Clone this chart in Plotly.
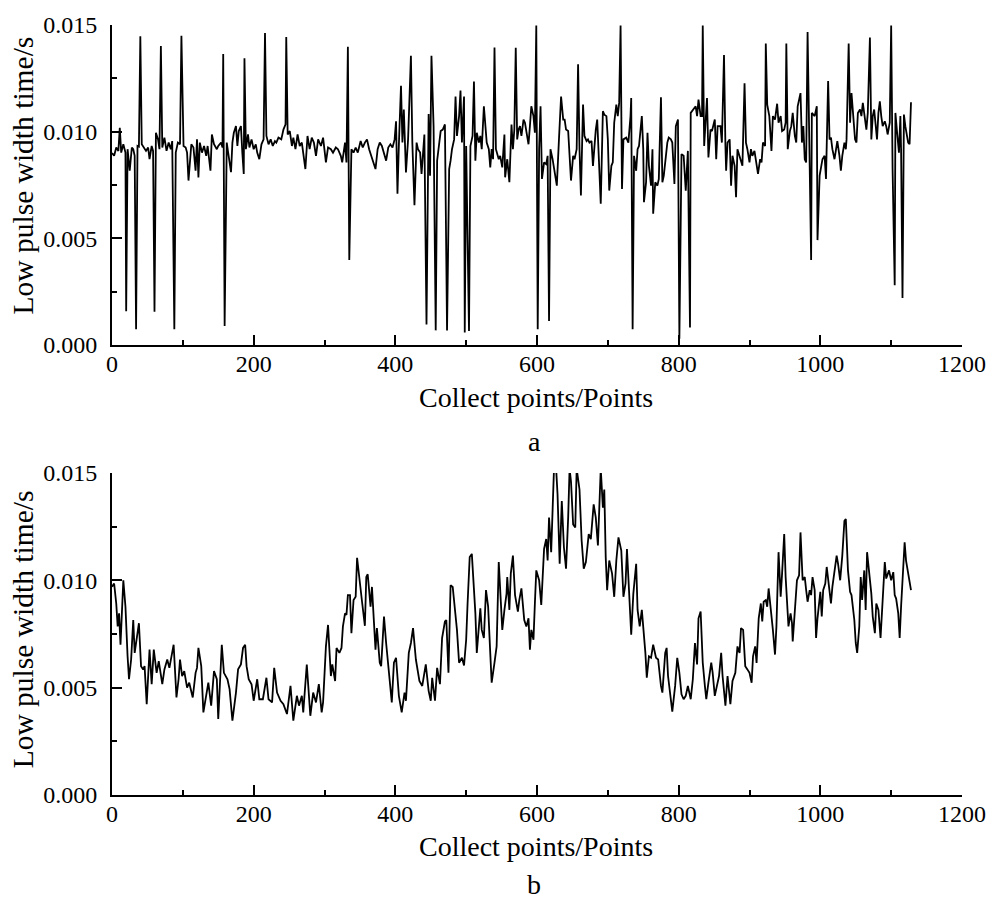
import plotly.graph_objects as go

# ---------------- data (in milliseconds) ----------------
a_x = [0,3,6,9,11,13,16,19,20,22,25,28,30,32,34,36,38,40,42,45,48,51,53,56,58,60,62,65,67,69,71,74,77,80,83,85,88,90,93,96,98,
       101,104,106,108,112,115,118,120,122,124,127,130,133,135,139,141,144,148,150,154,156,157,159,162,164,168,170,172,175,177,179,
       182,184,186,187,189,192,194,197,200,203,205,208,211,214,216,218,221,224,227,230,232,235,239,242,245,246,248,251,254,256,259,
       262,265,268,270,273,276,279,282,285,288,291,295,298,302,305,309,312,316,319,323,325,329,331,333,335,338,341,344,347,351,354,
       357,360,363,366,369,372,375,378,381,384,387,390,393,396,399,401,403,405,408,410,412,415,418,422,424,427,430,432,435,437,441,
       444,447,449,451,454,457,459,462,464,467,470,473,476,478,480,483,485,487,490,492,494,497,498,500,504,506,509,511,513,515,518,
       520,522,525,527,529,532,534,536,538,540,542,546,548,551,554,555,558,561,564,566,568,570,572,574,576,578,581,583,585,588,590,
       592,595,597,599,601,603,605,607,610,613,615,617,619,622,625,628,631,632,634,637,639,641,644,646,648,651,653,656,658,660,662,
       665,667,670,672,674,677,679,681,683,685,687,690,693,695,698,700,702,705,707,709,712,714,716,718,720,722,726,729,732,733,735,
       737,740,742,744,748,750,751,754,756,758,761,763,764,767,770,772,775,777,779,782,784,786,789,791,794,796,799,801,804,807,810,
       813,816,817,820,824,826,828,831,833,834,836,840,842,845,847,851,853,855,859,861,864,866,867,869,872,874,876,879,881,883,886,
       888,890,893,895,897,900,902,904,907,909,912,915,917,919,922,923,925,928,930,931,933,936,939,941,944,946,949,951,952,954,957,
       959,961,964,966,968,972,974,976,978,980,982,985,987,988,992,995,996,999,1001,1003,1006,1008,1011,1013,1015,1017,1020,1022,
       1024,1027,1029,1031,1034,1036,1037,1040,1042,1044,1047,1049,1051,1053,1056,1058,1060,1063,1065,1067,1070,1072,1074,1076,1078,
       1080,1082,1084,1086,1088,1091,1093,1095,1098,1100,1102,1105,1106,1108,1111,1113,1114,1116,1118,1120,1122,1124,1126,1128]
a_ms = [9.0,8.87,9.26,9.1,10.18,9.02,9.41,9.02,1.59,9.18,8.17,9.26,9.18,8.87,0.74,9.33,9.3,14.47,9.41,9.26,9.1,9.26,8.71,9.33,9.1,
        1.56,9.95,9.64,9.18,14.01,9.26,9.72,9.1,9.49,9.18,9.56,0.74,9.02,9.49,9.41,14.5,
        9.33,9.26,9.02,7.71,9.41,9.26,8.17,9.64,7.86,9.49,9.02,9.33,8.87,9.33,8.17,9.87,9.41,9.18,9.33,9.49,9.26,13.64,0.90,9.49,9.02,
        8.1,9.49,9.95,10.26,9.33,10.03,
        10.26,9.02,8.02,13.44,9.18,9.87,9.26,9.64,9.18,9.41,9.02,8.71,9.41,9.64,14.63,9.8,9.41,9.64,9.33,9.56,9.49,9.72,9.64,10.1,10.34,
        14.44,9.87,10.03,9.33,9.72,9.18,
        9.87,9.33,9.49,8.87,8.25,9.8,9.18,9.72,9.49,8.87,9.64,9.33,9.72,8.56,9.26,9.18,9.02,9.26,9.18,8.87,8.56,9.49,8.56,13.98,3.99,
        9.18,9.02,9.26,9.02,9.56,9.26,
        9.49,9.64,9.18,8.87,8.56,8.25,9.18,9.49,9.33,9.02,8.64,9.26,9.41,9.26,9.64,10.49,7.09,9.4,12.15,9.49,11.04,8.09,9.64,13.56,9.49,
        6.55,9.49,9.18,9.02,8.02,9.87,
        0.97,10.83,7.94,13.56,10.26,0.69,8.64,9.49,10.03,10.1,10.34,0.69,8.25,8.64,9.18,9.64,11.65,9.8,10.73,11.93,9.49,11.65,0.59,9.33,
        0.66,9.33,9.8,12.35,8.64,9.95,9.49,
        9.8,9.18,11.19,10.26,9.49,9.18,8.33,9.18,8.71,13.95,9.18,8.71,8.87,8.33,9.87,7.86,8.71,7.63,10.34,9.18,10.1,13.93,9.64,10.1,10.26,
        9.8,10.57,10.42,9.95,9.41,10.26,
        11.19,10.73,9.95,14.98,0.74,9.18,11.19,7.79,8.56,8.48,8.87,1.13,9.18,8.71,8.09,7.47,9.64,10.57,11.65,10.57,10.57,10.1,10.03,8.87,
        7.71,8.87,8.71,9.18,13.16,9.18,7.01,
        11.27,9.8,9.56,9.64,9.49,9.56,8.4,9.49,10.1,10.57,9.18,6.62,10.96,10.8,10.73,9.64,7.24,8.4,8.56,10.42,11.27,10.73,11.35,14.98,
        7.32,9.64,9.72,9.49,10.73,11.58,0.74,
        8.87,8.17,9.18,9.33,10.73,9.18,6.7,7.63,9.95,8.4,7.47,9.18,6.16,7.63,7.47,7.79,11.61,7.63,7.94,8.87,9.49,9.72,9.64,9.49,7.55,
        10.26,10.57,0.3,8.95,8.87,7.24,
        9.1,0.82,10.88,11.04,11.19,10.73,11.5,10.73,10.73,14.98,9.33,11.58,8.79,10.1,10.03,10.57,8.71,10.26,10.26,9.49,13.59,9.33,8.17,
        9.49,9.64,7.47,8.87,8.4,6.93,9.18,8.87,
        8.56,8.4,12.27,9.49,9.18,8.56,9.18,8.87,9.1,8.56,8.02,8.71,8.56,9.49,9.33,14.13,11.27,10.73,9.49,9.1,10.73,10.57,11.31,10.42,
        10.73,10.03,10.1,10.42,14.13,9.18,10.03,
        10.26,10.88,9.8,9.49,11.19,11.81,9.49,10.26,8.71,8.56,14.67,8.33,3.99,10.88,10.73,11.19,4.92,7.94,8.4,8.71,8.87,7.79,12.38,9.64,
        9.72,9.18,8.71,9.18,
        9.56,8.87,8.17,8.87,9.49,9.18,9.64,14.13,10.42,11.81,10.73,9.64,9.49,10.88,11.04,10.73,11.35,10.73,10.1,10.88,14.41,9.64,10.73,
        11.04,10.26,
        9.64,10.88,11.42,10.73,10.26,10.49,10.26,9.87,10.42,14.98,8.25,2.8,10.88,10.1,9.02,10.73,9.18,2.21,10.8,10.26,9.95,9.49,9.41,11.38]

b_x = [0,3,6,8,10,12,16,19,22,24,27,30,32,35,38,41,44,46,49,53,56,59,63,66,71,74,78,81,87,91,94,96,99,102,106,109,114,118,120,122,
       126,129,133,136,140,144,148,150,155,158,163,166,170,175,178,182,185,188,190,193,197,200,205,208,213,218,221,226,229,233,238,
       242,247,252,256,261,264,268,270,275,280,284,288,292,296,298,302,305,309,311,315,317,321,324,326,329,331,333,336,338,341,344,
       346,350,353,357,359,361,365,367,369,372,374,378,380,384,387,389,392,395,398,401,405,409,413,415,419,422,425,429,434,438,443,
       447,450,452,456,459,463,466,470,472,475,478,481,484,487,490,494,497,500,502,505,508,511,513,515,518,520,522,525,528,531,534,
       536,540,543,546,549,551,554,557,558,561,563,566,569,573,575,578,582,585,588,590,592,595,597,599,603,606,610,613,615,617,620,
       624,627,629,632,635,638,641,644,646,648,651,654,656,660,663,666,669,673,676,680,683,686,688,690,693,695,697,699,702,706,709,
       712,715,719,722,725,727,730,733,736,740,742,745,748,750,753,755,758,761,764,768,771,775,777,781,783,785,789,791,795,798,801,
       804,807,810,813,817,820,823,826,828,831,834,837,839,842,846,848,851,854,857,860,862,866,869,873,876,880,883,886,888,891,894,
       897,900,903,905,908,910,913,916,918,920,923,925,927,930,933,936,938,941,944,946,949,951,953,955,958,960,961,965,967,970,972,
       975,978,980,982,985,987,989,992,994,996,1000,1002,1004,1007,1009,1012,1015,1017,1020,1023,1025,1028,1031,1034,1036,1039,1042,
       1044,1048,1050,1052,1055,1057,1059,1062,1064,1066,1069,1072,1074,1077,1079,1082,1085,1088,1091,1093,1097,1100,1103,1105,1107,
       1110,1112,1114,1116,1119,1121,1123,1126,1128]
b_ms = [9.7,9.85,8.92,7.85,8.46,7.0,10.0,8.77,6.46,5.39,6.31,8.15,6.62,7.39,8.0,6.0,5.85,6.0,4.23,6.77,5.16,6.77,5.69,6.23,5.16,5.85,
        6.31,5.92,7.0,4.54,5.39,6.31,5.54,5.77,5.0,5.23,4.54,5.69,5.92,6.85,
        6.0,3.85,4.62,5.23,4.16,5.77,5.39,3.54,7.0,5.69,5.39,4.93,3.46,4.77,5.85,6.08,6.85,7.0,6.0,5.39,5.16,4.39,5.39,4.46,4.46,5.46,
        4.46,4.31,5.92,4.77,4.39,
        4.23,3.77,5.08,3.46,4.62,4.16,4.62,3.85,6.08,3.69,4.77,4.31,5.16,3.85,4.31,6.92,7.92,5.54,6.08,5.31,6.85,6.62,6.85,7.85,8.46,
        8.39,9.31,9.31,7.54,9.08,9.23,
        11.05,10.0,9.0,7.88,10.15,10.28,8.77,9.69,8.31,6.77,7.77,6.16,6.0,8.31,7.08,6.39,5.62,4.31,6.16,6.39,4.62,3.85,4.77,4.39,6.62,
        7.08,7.77,6.31,5.31,5.08,6.08,
        4.85,4.39,5.46,4.39,5.92,5.16,7.31,8.08,8.15,5.69,9.77,9.69,8.69,7.69,6.16,6.39,6.03,7.23,8.92,11.08,11.23,9.69,8.46,6.62,7.85,
        8.69,7.69,7.31,9.54,8.77,6.62,
        5.23,6.16,6.92,10.85,8.77,7.69,8.62,9.38,10.15,8.62,10.31,11.15,9.31,8.54,9.08,9.62,8.15,7.85,8.23,6.77,7.69,7.23,8.92,10.46,
        10.0,8.85,11.46,11.92,10.92,12.92,11.31,
        15.2,15.2,14.0,10.77,13.69,11.54,10.54,12.92,15.2,14.6,12.6,12.46,15.2,14.23,11.85,10.54,10.85,12.15,11.92,13.54,12.92,11.62,
        13.0,15.2,13.38,14.23,11.08,9.54,10.92,10.31,9.23,
        10.92,12.0,11.38,9.23,9.85,11.46,9.69,7.46,9.38,10.77,8.62,7.85,8.62,7.85,6.62,5.46,6.46,6.39,7.0,6.39,6.31,5.08,4.77,6.62,6.85,
        5.54,4.46,3.88,5.08,6.39,5.69,
        4.69,4.46,4.62,5.08,4.46,5.39,7.08,6.08,8.23,8.54,6.16,5.08,4.46,5.23,6.16,5.69,4.62,5.08,5.54,6.62,5.54,4.16,5.54,4.23,5.31,
        5.69,6.92,6.62,7.77,7.69,6.0,
        5.85,5.69,5.23,6.46,6.92,6.15,8.23,8.92,8.08,9.0,9.08,8.77,9.62,8.77,7.69,6.54,7.85,11.31,9.23,10.31,12.15,10.15,8.92,7.85,8.46,
        8.0,7.15,8.92,10.0,10.23,12.23,
        10.0,10.15,9.54,9.0,9.54,9.31,10.15,9.54,7.31,8.23,9.46,8.31,9.54,9.85,10.62,9.69,8.92,9.69,10.46,11.15,10.77,10.0,11.15,12.77,
        12.85,10.46,9.46,
        9.31,8.15,7.08,6.62,7.85,10.15,9.08,10.46,8.62,11.31,10.31,9.38,8.31,7.54,8.92,8.62,7.31,9.23,10.85,10.08,10.46,10.0,10.38,9.31,
        9.15,
        8.46,7.31,8.77,10.23,11.77,10.92,10.46,10.0,9.54]

x_tick_vals = [0, 200, 400, 600, 800, 1000, 1200]
y_tick_vals = [0.000, 0.005, 0.010, 0.015]
x_title = "Collect points/Points"
y_title = "Low pulse width time/s"
panel_labels = ["a", "b"]

# ---------------- figure ----------------
FONT = "Liberation Serif"
W, H = 998, 901
ML, MR, MT, MB = 112, 28, 18, 106
plot_h = H - MT - MB
plot_w = W - ML - MR


def py(pix):
    return (H - MB - pix) / plot_h


def px(pix):
    return (pix - ML) / plot_w


a_y = [v / 1000 for v in a_ms]
b_y = [v / 1000 for v in b_ms]

fig = go.Figure()
fig.add_trace(go.Scatter(x=a_x, y=a_y, mode="lines", line=dict(color="black", width=1.8),
                         xaxis="x", yaxis="y", showlegend=False))
fig.add_trace(go.Scatter(x=b_x, y=b_y, mode="lines", line=dict(color="black", width=1.8),
                         xaxis="x2", yaxis="y2", showlegend=False))

xcommon = dict(range=[0, 1200], tickvals=x_tick_vals, ticks="inside", ticklen=10, tickwidth=1.5,
               tickcolor="black", showline=True, linecolor="black", linewidth=2, showgrid=False,
               zeroline=False, mirror=False, tickfont=dict(family=FONT, size=24, color="black"),
               ticklabelstandoff=-4, ticklabeloverflow="allow",
               minor=dict(dtick=100, tick0=0, ticks="inside", ticklen=5, tickwidth=1.5, tickcolor="black",
                          showgrid=False))
ycommon = dict(range=[0, 0.015], tickvals=y_tick_vals, tickformat=".3f", ticks="inside", ticklen=10,
               tickwidth=1.5, tickcolor="black", showline=True, linecolor="black", linewidth=2,
               showgrid=False, zeroline=False, mirror=False,
               tickfont=dict(family=FONT, size=24, color="black"), ticklabelstandoff=8,
               ticklabeloverflow="allow",
               minor=dict(dtick=0.0025, tick0=0, ticks="inside", ticklen=5, tickwidth=1.5, tickcolor="black",
                          showgrid=False))

fig.update_layout(
    width=W, height=H,
    margin=dict(l=ML, r=MR, t=MT, b=MB, pad=0),
    paper_bgcolor="white", plot_bgcolor="white",
    xaxis=dict(domain=[0, 1], anchor="y", **xcommon),
    yaxis=dict(domain=[py(341), 1], anchor="x", **ycommon),
    xaxis2=dict(domain=[0, 1], anchor="y2", **xcommon),
    yaxis2=dict(domain=[0, py(470)], anchor="x2", **ycommon),
)

ann_font = dict(family=FONT, size=28, color="black")
ytitle_font = dict(family=FONT, size=29.5, color="black")
annotations = [
    dict(text=x_title, x=px(540), y=py(394), xref="paper", yref="paper", showarrow=False, font=ann_font,
         xanchor="center", yanchor="middle"),
    dict(text=panel_labels[0], x=px(538), y=py(438), xref="paper", yref="paper", showarrow=False, font=ann_font,
         xanchor="center", yanchor="middle"),
    dict(text=x_title, x=px(540), y=py(847), xref="paper", yref="paper", showarrow=False, font=ann_font,
         xanchor="center", yanchor="middle"),
    dict(text=panel_labels[1], x=px(538), y=py(885), xref="paper", yref="paper", showarrow=False, font=ann_font,
         xanchor="center", yanchor="middle"),
    dict(text=y_title, x=px(22), y=py(170), xref="paper", yref="paper", showarrow=False, font=ytitle_font,
         textangle=-90, xanchor="center", yanchor="middle"),
    dict(text=y_title, x=px(22), y=py(628), xref="paper", yref="paper", showarrow=False, font=ytitle_font,
         textangle=-90, xanchor="center", yanchor="middle"),
]
fig.update_layout(annotations=annotations)

fig.write_html("out.html")
